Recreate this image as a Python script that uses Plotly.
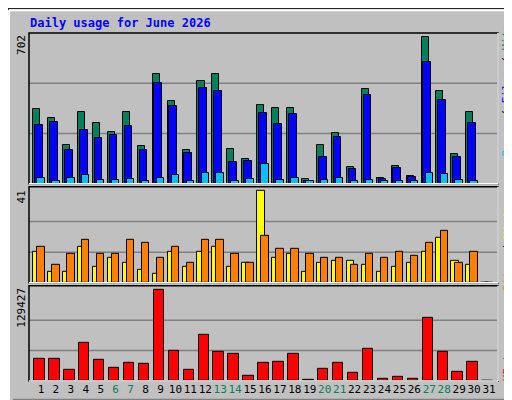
import plotly.graph_objects as go

days = list(range(1, 32))
hits = [346,305,180,333,282,240,333,175,513,383,157,480,513,162,115,365,351,351,23,180,235,78,439,28,83,37,684,434,139,333,0]
files = [272,286,157,249,212,226,268,157,467,360,143,448,434,102,106,328,277,323,14,125,217,69,411,23,74,32,568,388,125,282,0]
pages = [28,14,28,42,18,18,23,14,28,42,14,51,51,14,23,92,18,28,12,18,28,14,18,12,14,12,51,46,18,14,0]
sites = [14,5,5,16,7,11,9,6,4,14,7,14,16,7,9,41,11,13,5,9,10,10,8,5,7,9,14,20,10,8,0]
visits = [16,8,13,19,13,13,19,18,11,16,9,19,19,13,9,21,15,15,13,11,11,8,13,11,14,12,18,23,9,14,0]
kbytes = [31500,31500,16000,54100,30100,18800,25900,24500,129427,42800,16000,65400,41400,38600,7500,25900,27300,38600,1900,17400,25900,11800,45600,3300,6100,3300,89400,41400,13200,27300,0]
weekend = [6,7,13,14,20,21,27,28]
tick_labels = [f"<span style='color:#00805C'>{d}</span>" if d in weekend else str(d) for d in days]

BG = "#C0C0C0"
line = dict(color="black", width=1)
fig = go.Figure()

def bar(y, color, off, w, ya):
    fig.add_trace(go.Bar(x=days, y=y, marker=dict(color=color, line=line),
                         offset=off, width=w, yaxis=ya, xaxis="x", showlegend=False, hoverinfo="skip"))

bar(hits, "#00805C", -0.52, 0.47, "y")
bar(files, "#0000FF", -0.40, 0.52, "y")
bar(pages, "#00C0FF", -0.25, 0.50, "y")
bar(sites, "#FFFF00", -0.52, 0.50, "y2")
bar(visits, "#FF8000", -0.25, 0.50, "y2")
bar(kbytes, "#FF0000", -0.45, 0.70, "y3")

grid = dict(showgrid=False, showticklabels=False, ticks="", zeroline=False)
fig.update_layout(
    width=512, height=400, margin=dict(l=21, r=22, t=25, b=24),
    paper_bgcolor=BG, plot_bgcolor=BG, barmode="overlay", bargap=0,
    font=dict(family="DejaVu Sans Mono", size=11, color="black"),
    xaxis=dict(range=[0.2, 31.6], tickvals=days, ticktext=tick_labels, showgrid=False,
               zeroline=False, ticks="", tickangle=0, tickfont=dict(size=11, family="DejaVu Sans Mono"),
               anchor="y3"),
    yaxis=dict(domain=[0.567, 1], range=[0, 702], **grid),
    yaxis2=dict(domain=[0.282, 0.558], range=[0, 42.8], **grid),
    yaxis3=dict(domain=[0, 0.2735], range=[0, 135050], **grid),
)

shapes = []
for ya, mx in [("y", 702), ("y2", 41), ("y3", 129427)]:
    for f in (1/3, 2/3):
        shapes.append(dict(type="line", xref="paper", yref=ya, x0=0, x1=1, y0=mx*f, y1=mx*f,
                           line=dict(color="#808080", width=1.5), layer="below"))
for d0, d1 in [(0.567, 1), (0.282, 0.558), (0, 0.2735)]:
    shapes.append(dict(type="rect", xref="paper", yref="paper", x0=0, x1=1, y0=d0, y1=d1,
                       line=dict(color="black", width=1.5)))
    shapes.append(dict(type="line", xref="paper", yref="paper", x0=0, x1=1, y0=d0, y1=d0,
                       line=dict(color="white", width=1.5)))
    shapes.append(dict(type="line", xref="paper", yref="paper", x0=1, x1=1, y0=d0, y1=d1,
                       line=dict(color="white", width=1.5)))
shapes.append(dict(type="rect", xref="paper", yref="paper", x0=-21/469, x1=1+21/469,
                   y0=-23.5/351, y1=1+24.5/351, line=dict(color="black", width=1)))
shapes.append(dict(type="line", xref="paper", yref="paper", x0=1+16/469, x1=1+16/469,
                   y0=-18/351, y1=1+10/351, line=dict(color="#808080", width=4)))
shapes.append(dict(type="line", xref="paper", yref="paper", x0=-16/469, x1=1+18/469,
                   y0=-20/351, y1=-20/351, line=dict(color="#808080", width=4)))
shapes.append(dict(type="line", xref="paper", yref="paper", x0=-20/469, x1=1+20/469,
                   y0=1+23/351, y1=1+23/351, line=dict(color="white", width=2)))
shapes.append(dict(type="line", xref="paper", yref="paper", x0=-20/469, x1=-20/469,
                   y0=-22/351, y1=1+23/351, line=dict(color="white", width=2)))
fig.update_layout(shapes=shapes)

def py(p):
    return (376 - p) / 351

ann = [
    dict(text="<b>Daily usage for June 2026</b>", x=-1/469, y=1+10/351, xref="paper", yref="paper",
         xanchor="left", yanchor="middle", showarrow=False,
         font=dict(color="#0000FF", size=12, family="DejaVu Sans Mono")),
]
for txt, cy in [("702", 37), ("41", 191), ("129427", 302)]:
    ann.append(dict(text=txt, x=-7/469, y=py(cy), xref="paper", yref="paper", textangle=-90,
                    xanchor="center", yanchor="middle", showarrow=False,
                    font=dict(size=11, family="DejaVu Sans Mono")))
right = [
    ("<span style='color:#00C0FF'>Pages</span> / <span style='color:#0000FF'>Files</span> / <span style='color:#00805C'>Hits</span>", 82),
    ("<span style='color:#FF8000'>Sites</span> / <span style='color:#FFFF00'>Visits</span>", 238),
    ("<span style='color:#FF0000'>KBytes</span>", 356),
]
for txt, cy in right:
    ann.append(dict(text=txt, x=1+9/469, y=py(cy), xref="paper", yref="paper", textangle=-90,
                    xanchor="center", yanchor="middle", showarrow=False,
                    font=dict(size=11, family="DejaVu Sans Mono", color="black")))
fig.update_layout(annotations=ann)
fig.write_html("out.html")
